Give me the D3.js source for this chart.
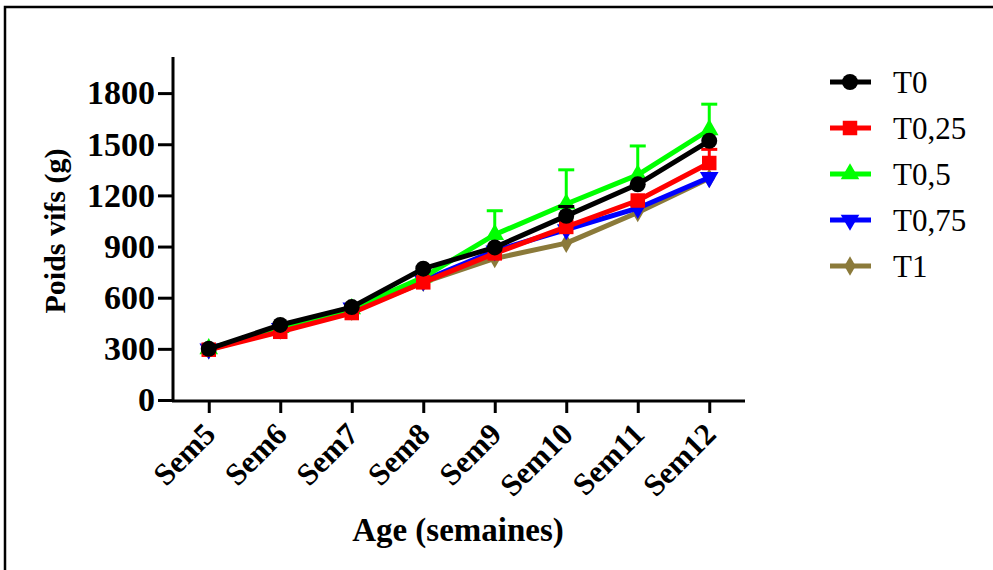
<!DOCTYPE html>
<html lang="fr"><head>
<meta charset="utf-8">
<title>Poids vifs</title>
<script src="https://cdn.jsdelivr.net/npm/d3@7"></script>
<style>
  body { margin: 0; background: #fff; }
  text { font-family: "Liberation Serif", "Times New Roman", serif; }
</style>
</head>
<body>
<svg width="993" height="570"></svg>
<script>
// data
var weeks = ["Sem5", "Sem6", "Sem7", "Sem8", "Sem9", "Sem10", "Sem11", "Sem12"];
var yTicks = [0, 300, 600, 900, 1200, 1500, 1800];

var t0    = [300, 440, 545, 770, 895, 1080, 1265, 1520];
var t025  = [295, 400, 510, 690, 860, 1015, 1170, 1390];
var t05   = [300, 425, 535, 720, 970, 1150, 1320, 1585];
var t075  = [300, 420, 540, 700, 875, 1000, 1125, 1305];
var t1    = [295, 410, 520, 690, 830, 920, 1100, 1300];

// upper error bars (SD)
var t0Err   = [0, 0, 0, 0, 0, 55, 0, 0];
var t025Err = [0, 0, 0, 0, 0, 0, 0, 80];
var t05Err  = [0, 0, 0, 0, 140, 200, 170, 150];
var t075Err = [0, 0, 0, 0, 0, 0, 0, 0];
var t1Err   = [0, 0, 0, 0, 0, 0, 0, 0];

var series = [
  {name: "T0",    values: t0,   err: t0Err,   color: "#000000", shape: d3.symbolCircle,   size: 200},
  {name: "T0,25", values: t025, err: t025Err, color: "#ff0000", shape: d3.symbolSquare,   size: 210},
  {name: "T0,5",  values: t05,  err: t05Err,  color: "#00ff00", shape: d3.symbolTriangle, size: 150},
  {name: "T0,75", values: t075, err: t075Err, color: "#0000ff", shape: "down",            size: 150},
  {name: "T1",    values: t1,   err: t1Err,   color: "#8b7a3a", shape: d3.symbolDiamond,  size: 110}
];

var svg = d3.select("svg");

// frame
svg.append("path")
   .attr("d", "M5,570 V7 H993")
   .attr("fill", "none")
   .attr("stroke", "#000")
   .attr("stroke-width", 2.5);

var x = d3.scalePoint().domain(weeks).range([173, 745]).padding(0.5);
var y = d3.scaleLinear().domain([0, 2000]).range([400, 59]);

function symbolPath(s) {
  if (s.shape === "down") return d3.symbol(d3.symbolTriangle, s.size)();
  return d3.symbol(s.shape, s.size)();
}

// axes
var yAxis = svg.append("g")
   .attr("transform", "translate(173,0)")
   .call(d3.axisLeft(y).tickValues(yTicks).tickSize(15).tickPadding(3).tickFormat(d3.format("d")));
yAxis.select(".domain").attr("d", "M0,57V401");
var xAxis = svg.append("g")
   .attr("transform", "translate(0,401)")
   .call(d3.axisBottom(x).tickSize(12).tickPadding(4));
xAxis.select(".domain").attr("d", "M172,0H745");

svg.selectAll(".domain, .tick line").attr("stroke", "#000").attr("stroke-width", 3);
yAxis.selectAll("text")
   .attr("font-size", 34).attr("font-weight", "bold").attr("fill", "#000");
xAxis.selectAll("text")
   .attr("font-size", 31).attr("font-weight", "bold").attr("fill", "#000")
   .attr("text-anchor", "end")
   .attr("dy", "0.35em")
   .attr("transform", "translate(-11,16) rotate(-45)");

// titles
svg.append("text")
   .attr("x", 458).attr("y", 541)
   .attr("text-anchor", "middle")
   .attr("font-size", 33).attr("font-weight", "bold")
   .text("Age (semaines)");
svg.append("text")
   .attr("transform", "translate(65,231) rotate(-90)")
   .attr("text-anchor", "middle")
   .attr("font-size", 30).attr("font-weight", "bold")
   .text("Poids vifs (g)");

var line = d3.line()
   .x(function(d, i) { return x(weeks[i]); })
   .y(function(d) { return y(d); });

// draw back to front
series.slice().reverse().forEach(function(s) {
  var g = svg.append("g");
  // error bars
  s.err.forEach(function(e, i) {
    if (!e) return;
    var cx = x(weeks[i]), top = y(s.values[i] + e);
    g.append("line").attr("x1", cx).attr("x2", cx)
     .attr("y1", y(s.values[i])).attr("y2", top)
     .attr("stroke", s.color).attr("stroke-width", 3);
    g.append("line").attr("x1", cx - 8).attr("x2", cx + 8)
     .attr("y1", top).attr("y2", top)
     .attr("stroke", s.color).attr("stroke-width", 3);
  });
  g.append("path")
   .datum(s.values)
   .attr("d", line)
   .attr("fill", "none")
   .attr("stroke", s.color)
   .attr("stroke-width", 5)
   .attr("stroke-linejoin", "round");
  g.selectAll("path.pt")
   .data(s.values)
   .enter().append("path")
   .attr("class", "pt")
   .attr("d", symbolPath(s))
   .attr("transform", function(d, i) {
     return "translate(" + x(weeks[i]) + "," + y(d) + ")" + (s.shape === "down" ? " rotate(180)" : "");
   })
   .attr("fill", s.color);
});

// legend
var legend = svg.append("g").attr("transform", "translate(830,82)");
var row = legend.selectAll("g")
   .data(series)
   .enter().append("g")
   .attr("transform", function(d, i) { return "translate(0," + i * 46 + ")"; });
row.append("line")
   .attr("x1", 0).attr("x2", 41)
   .attr("stroke", function(d) { return d.color; })
   .attr("stroke-width", 5);
row.append("path")
   .attr("d", function(d) { return symbolPath(d); })
   .attr("transform", function(d) { return "translate(20,0)" + (d.shape === "down" ? " rotate(180)" : ""); })
   .attr("fill", function(d) { return d.color; });
row.append("text")
   .attr("x", 63).attr("y", 0).attr("dy", "0.35em")
   .attr("font-size", 31)
   .text(function(d) { return d.name; });
</script>
</body>
</html>
